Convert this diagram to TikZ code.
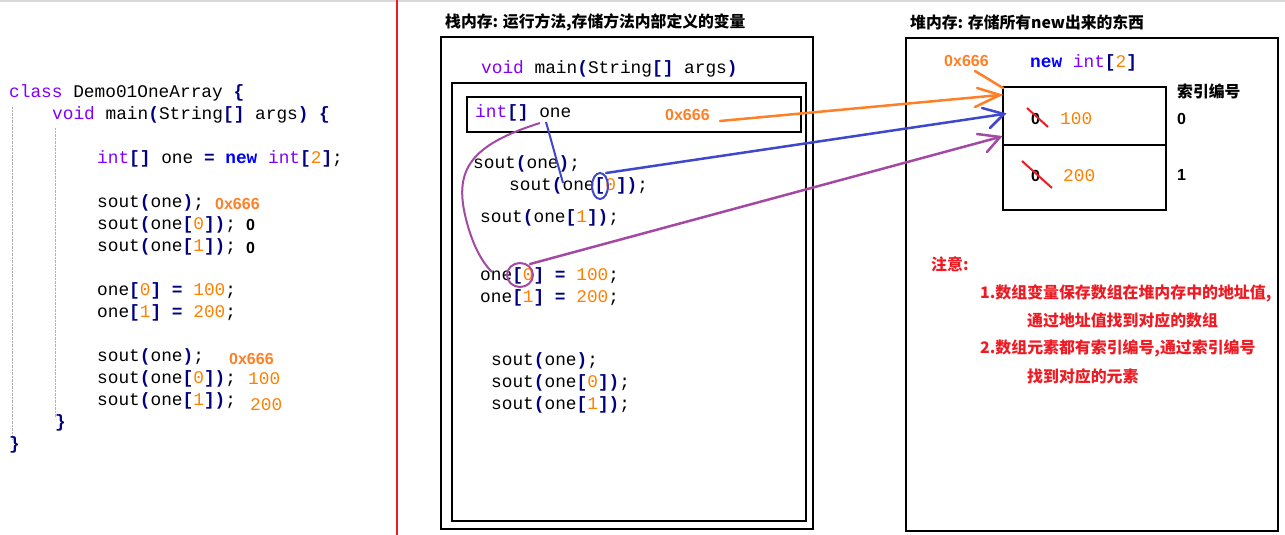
\documentclass[tikz,border=0pt]{standalone}
\usepackage{fontspec}
\setmonofont{Liberation Mono}
\setmainfont{Liberation Sans}
\newfontfamily\cjk{Noto Sans CJK SC}
\definecolor{kwc}{HTML}{8000FF}
\definecolor{opc}{HTML}{000080}
\definecolor{numc}{HTML}{FF8000}
\definecolor{newc}{HTML}{0000FF}
\definecolor{aor}{HTML}{FF7F27}
\definecolor{abl}{HTML}{3F48CC}
\definecolor{apu}{HTML}{A349A4}
\definecolor{redc}{HTML}{ED1C24}
\newcommand\kw[1]{\textcolor{kwc}{#1}}
\newcommand\opr[1]{\textcolor{opc}{\bfseries #1}}
\newcommand\cnum[1]{\textcolor{numc}{#1}}
\newcommand\nw{\textcolor{newc}{\bfseries new}}
\begin{document}
\begin{tikzpicture}[x=1pt,y=-1pt,
  code/.style={anchor=west,inner sep=0pt,font=\ttfamily\fontsize{17.8}{17.8}\selectfont},
  ann/.style={anchor=west,inner sep=0pt,font=\rmfamily\bfseries\fontsize{16}{16}\selectfont},
  ttl/.style={anchor=west,inner sep=0pt,font=\cjk\bfseries\fontsize{15.8}{15.8}\selectfont},
  note/.style={anchor=west,inner sep=0pt,text=redc,font=\cjk\bfseries\fontsize{15.9}{15.9}\selectfont},
  frame/.style={draw,line width=2.2pt},
  hand/.style={line width=2.5pt,line cap=round}]
\useasboundingbox (0,0) rectangle (1285,535);
\draw[black!15,line width=2pt] (0,1) -- (1285,1);
\draw[redc,line width=2pt] (397,0) -- (397,535);
% left code
\draw[black!30,densely dotted] (12,107) -- (12,440);
\draw[black!30,densely dotted] (55,128) -- (55,417);
\node[code] (l1) at (9,93) {\kw{class} Demo01OneArray \opr{\{}};
\node[code] (l2) at (52,115) {\kw{void} main\opr{(}String\opr{[]} args\opr{)} \opr{\{}};
\node[code] (l3) at (97,159) {\kw{int}\opr{[]} one \opr{=} \nw{} \kw{int}\opr{[}\cnum{2}\opr{]};};
\node[code] (l4) at (97,203) {sout\opr{(}one\opr{)};};
\node[code] (l5) at (97,225) {sout\opr{(}one\opr{[}\cnum{0}\opr{])};};
\node[code] (l6) at (97,247) {sout\opr{(}one\opr{[}\cnum{1}\opr{])};};
\node[code] (l7) at (97,291) {one\opr{[}\cnum{0}\opr{]} \opr{=} \cnum{100};};
\node[code] (l8) at (97,313) {one\opr{[}\cnum{1}\opr{]} \opr{=} \cnum{200};};
\node[code] (l9) at (97,357) {sout\opr{(}one\opr{)};};
\node[code] (l10) at (97,379) {sout\opr{(}one\opr{[}\cnum{0}\opr{])};};
\node[code] (l11) at (97,401) {sout\opr{(}one\opr{[}\cnum{1}\opr{])};};
\node[code] (l12) at (55,423) {\opr{\}}};
\node[code] (l13) at (9,445) {\opr{\}}};
\node[ann,text=aor] (a1) at (215,204) {0x666};
\node[ann] (a2) at (246,225) {0};
\node[ann] (a3) at (246,248) {0};
\node[ann,text=aor] (a4) at (229,359) {0x666};
\node[code,text=numc] (a5) at (248,379) {100};
\node[code,text=numc] (a6) at (250,405) {200};
% stack
\node[ttl] (t1) at (445,22) {栈内存: 运行方法,存储方法内部定义的变量};
\draw[frame] (441,37) rectangle (813,529);
\draw[frame] (452,83) rectangle (806,521);
\node[code] (m0) at (481,69) {\kw{void} main\opr{(}String\opr{[]} args\opr{)}};
\draw[frame] (467,97) rectangle (801,132);
\node[code] (var) at (475,113) {\kw{int}\opr{[]} one};
\node[ann,text=aor] (addr) at (665,115) {0x666};
\node[code] (m1) at (473,164) {sout\opr{(}one\opr{)};};
\node[code] (m2) at (509,186) {sout\opr{(}one\opr{[}\cnum{0}\opr{])};};
\node[code] (m3) at (480,218) {sout\opr{(}one\opr{[}\cnum{1}\opr{])};};
\node[code] (m4) at (480,276) {one\opr{[}\cnum{0}\opr{]} \opr{=} \cnum{100};};
\node[code] (m5) at (480,298) {one\opr{[}\cnum{1}\opr{]} \opr{=} \cnum{200};};
\node[code] (m6) at (491,361) {sout\opr{(}one\opr{)};};
\node[code] (m7) at (491,383) {sout\opr{(}one\opr{[}\cnum{0}\opr{])};};
\node[code] (m8) at (491,405) {sout\opr{(}one\opr{[}\cnum{1}\opr{])};};
% heap
\node[ttl] (t2) at (910,22) {堆内存: 存储所有new出来的东西};
\draw[frame] (906,38) rectangle (1278,531);
\node[ann,text=aor] (haddr) at (944,61) {0x666};
\node[code] (hnew) at (1030,63) {\nw{} \kw{int}\opr{[}\cnum{2}\opr{]}};
\draw[frame] (1003,87) rectangle (1166,210);
\draw[line width=2.2pt] (1003,145) -- (1166,145);
\node[ttl] (idx) at (1177,91) {索引编号};
\node[ann] (i0) at (1177,119) {0};
\node[ann] (i1) at (1177,175) {1};
\node[ann] (c0) at (1031,119) {0};
\node[code,text=numc] (v0) at (1060,119) {100};
\node[ann] (c1) at (1031,176) {0};
\node[code,text=numc] (v1) at (1063,176) {200};
\draw[redc,line width=2pt] (1027,108) -- (1048,127);
\draw[redc,line width=2pt] (1022,161) -- (1052,188);
\node[note] (n0) at (931,264) {注意:};
\node[note] (n1) at (980,293) {1.数组变量保存数组在堆内存中的地址值,};
\node[note] (n2) at (1027,320) {通过地址值找到对应的数组};
\node[note] (n3) at (980,348) {2.数组元素都有索引编号,通过索引编号};
\node[note] (n4) at (1027,376) {找到对应的元素};
% arrows
\coordinate (otip) at (1000,95);
\coordinate (btip) at (1004,114);
\coordinate (ptip) at (1000,137);
\draw[aor,hand] (720,121) -- (otip);
\draw[aor,hand] (977,88) -- (otip) -- (975,107);
\draw[aor,hand] (975,71) -- (1003,88);
\draw[abl,line width=2pt] (600,186) ellipse (8 and 13);
\draw[abl,hand] (606,173) -- (btip);
\draw[abl,hand] (982,108) -- (btip) -- (990,128);
\draw[abl,line width=2pt] (546,122) -- (563,183);
\draw[apu,line width=2pt] (520,275) ellipse (13 and 12);
\draw[apu,hand] (530,264) -- (ptip);
\draw[apu,hand] (977,134) -- (ptip) -- (987,152);
\draw[apu,line width=2pt] (540,123) .. controls (470,145) and (455,170) .. (465,215) .. controls (472,245) and (482,262) .. (492,272);
\end{tikzpicture}
\end{document}
